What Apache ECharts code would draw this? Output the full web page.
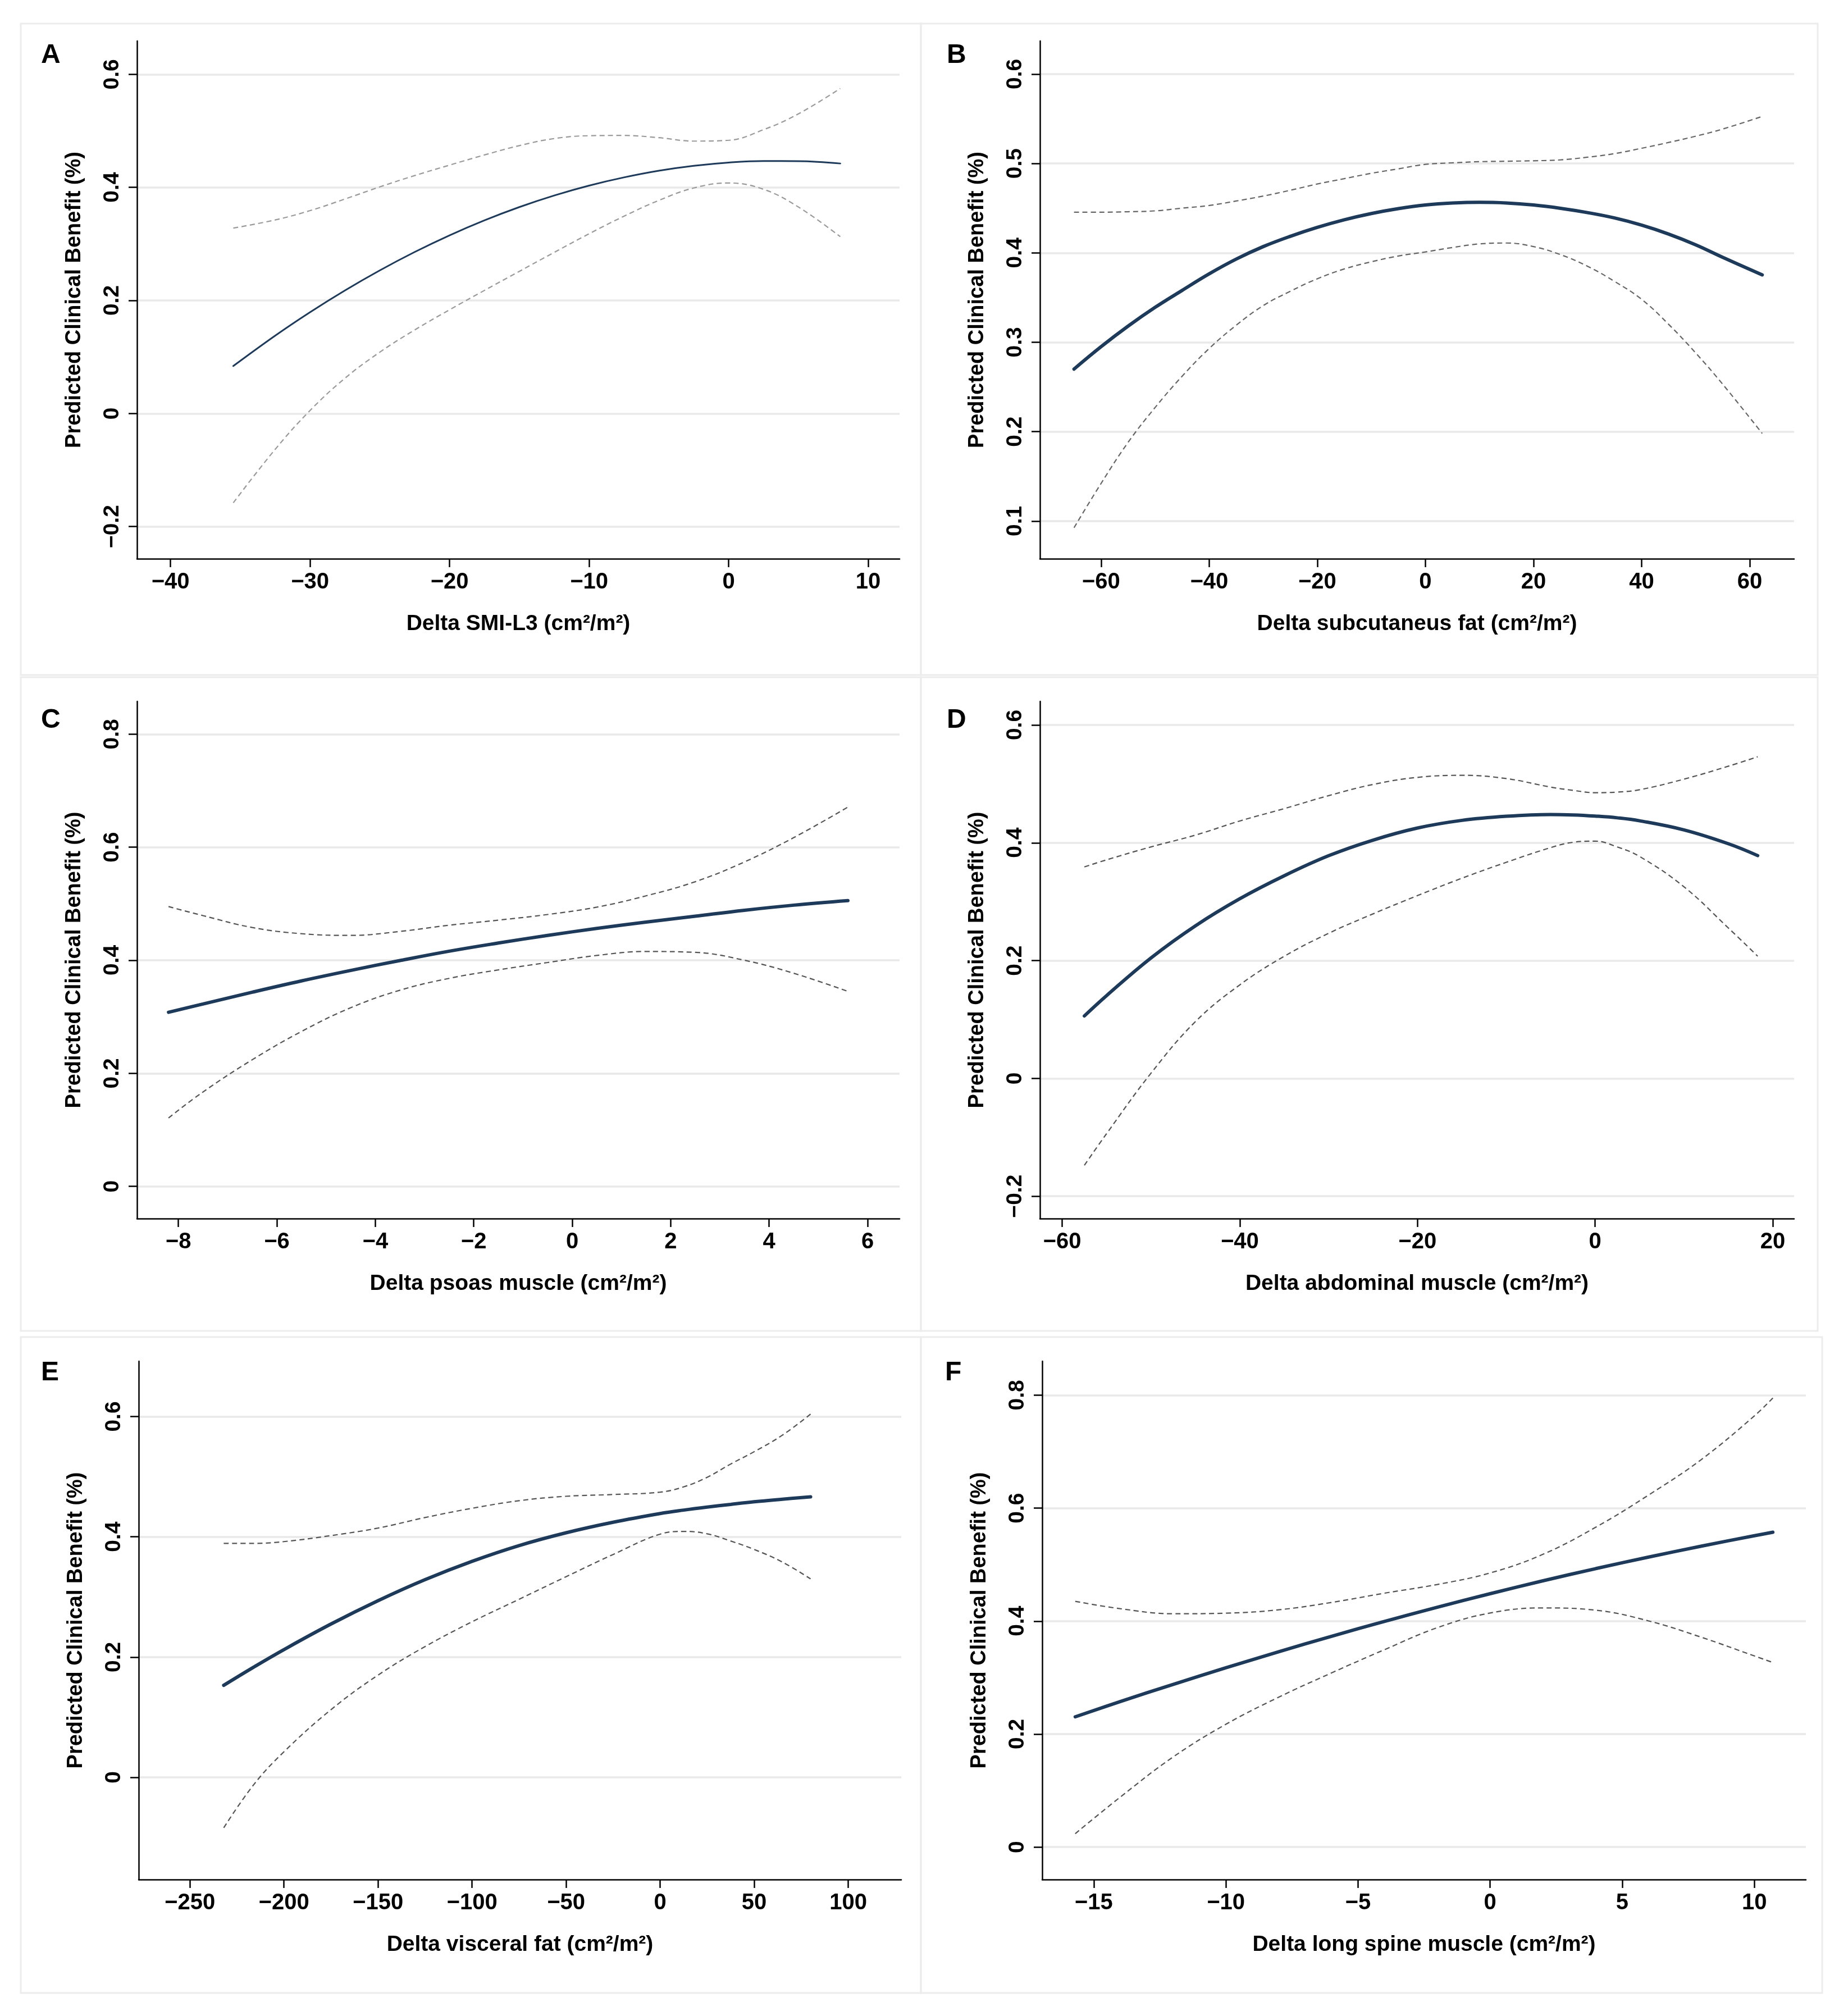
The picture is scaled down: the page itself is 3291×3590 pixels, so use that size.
<!DOCTYPE html>
<html>
<head>
<meta charset="utf-8">
<script src="https://cdn.jsdelivr.net/npm/echarts@6/dist/echarts.min.js"></script>
<style>
html,body{margin:0;padding:0;background:#fff;}
#chart{width:3291px;height:3590px;}
</style>
</head>
<body>
<div id="chart"></div>
<script>
// ---------- DATA ----------
// Panel A: Delta SMI-L3
const xA   = [-35.5, -32.5, -30, -27.5, -25, -22.5, -20, -17.5, -15, -12.5, -10, -7.5, -5, -2.5, 0, 2.5, 5, 8];
const fitA = [0.084, 0.1377, 0.1792, 0.2177, 0.2532, 0.2857, 0.3152, 0.3417, 0.3652, 0.3857, 0.4032, 0.4177, 0.4295, 0.4382, 0.444, 0.4467, 0.4465, 0.4423];
const upA  = [0.328, 0.3424, 0.3589, 0.3794, 0.4009, 0.4209, 0.4394, 0.4574, 0.4739, 0.4864, 0.4914, 0.4919, 0.4879, 0.4819, 0.4834, 0.5021, 0.5301, 0.575];
const loA  = [-0.158, -0.0635, 0.0053, 0.0623, 0.1085, 0.1478, 0.1835, 0.2178, 0.2515, 0.285, 0.318, 0.349, 0.377, 0.399, 0.4078, 0.3966, 0.3653, 0.3128];

// Panel B: Delta subcutaneus fat
const xB   = [-65, -60, -55, -50, -45, -40, -35, -30, -25, -20, -15, -10, -5, 0, 5, 10, 15, 20, 25, 30, 35, 40, 45, 50, 55, 62.3];
const fitB = [0.270, 0.295, 0.318, 0.339, 0.358, 0.3765, 0.393, 0.407, 0.4185, 0.4285, 0.437, 0.444, 0.4495, 0.4535, 0.4557, 0.4565, 0.4558, 0.4535, 0.4498, 0.445, 0.439, 0.431, 0.421, 0.409, 0.395, 0.3754];
const upB  = [0.4455, 0.4455, 0.446, 0.447, 0.450, 0.453, 0.458, 0.4635, 0.470, 0.477, 0.483, 0.489, 0.494, 0.499, 0.5007, 0.502, 0.5025, 0.503, 0.504, 0.507, 0.511, 0.517, 0.5235, 0.5305, 0.5385, 0.5526];
const loB  = [0.0925, 0.142, 0.188, 0.227, 0.262, 0.293, 0.319, 0.341, 0.357, 0.371, 0.382, 0.390, 0.3965, 0.401, 0.406, 0.410, 0.411, 0.407, 0.398, 0.385, 0.368, 0.348, 0.320, 0.288, 0.253, 0.198];

// Panel C: Delta psoas muscle
const xC   = [-8.2, -7.5, -6.5, -5.5, -4.5, -3.5, -2.5, -1.5, -0.5, 0.5, 1.5, 2.5, 3.5, 4.5, 5.6];
const fitC = [0.308, 0.3226, 0.3435, 0.3635, 0.382, 0.3995, 0.416, 0.4305, 0.444, 0.4563, 0.4675, 0.478, 0.4885, 0.4975, 0.5055];
const upC  = [0.495, 0.479, 0.458, 0.447, 0.444, 0.451, 0.462, 0.471, 0.481, 0.494, 0.514, 0.539, 0.574, 0.617, 0.671];
const loC  = [0.121, 0.167, 0.224, 0.274, 0.316, 0.347, 0.368, 0.383, 0.396, 0.4085, 0.4155, 0.414, 0.400, 0.377, 0.345];

// Panel D: Delta abdominal muscle
const xD   = [-57.5, -55, -50, -45, -40, -35, -30, -25, -20, -15, -10, -5, -2.5, 0, 2.5, 5, 10, 15, 18.3];
const fitD = [0.106, 0.1405, 0.2045, 0.259, 0.305, 0.344, 0.378, 0.4045, 0.425, 0.438, 0.445, 0.448, 0.4473, 0.4453, 0.4423, 0.4373, 0.4218, 0.3983, 0.3782];
const upD  = [0.359, 0.371, 0.393, 0.413, 0.437, 0.458, 0.480, 0.499, 0.511, 0.5145, 0.509, 0.4945, 0.489, 0.485, 0.486, 0.490, 0.508, 0.530, 0.546];
const loD  = [-0.1475, -0.0938, 0.0088, 0.0963, 0.1588, 0.2073, 0.2463, 0.2793, 0.3103, 0.3398, 0.3668, 0.3918, 0.4008, 0.4028, 0.3928, 0.3768, 0.3253, 0.2553, 0.2075];

// Panel E: Delta visceral fat
const xE   = [-232, -216, -200, -175, -150, -125, -100, -75, -50, -25, 0, 12.5, 25, 37.5, 50, 65, 80];
const fitE = [0.153, 0.1834, 0.2124, 0.2549, 0.2937, 0.3287, 0.3592, 0.3854, 0.4067, 0.4242, 0.4387, 0.4444, 0.4494, 0.4539, 0.4582, 0.4625, 0.4665];
const upE  = [0.389, 0.389, 0.392, 0.402, 0.4145, 0.432, 0.4474, 0.460, 0.4674, 0.4703, 0.4743, 0.483, 0.499, 0.521, 0.5415, 0.569, 0.604];
const loE  = [-0.084, -0.012, 0.0424, 0.1124, 0.1699, 0.2174, 0.2586, 0.2961, 0.3336, 0.3706, 0.4044, 0.409, 0.405, 0.393, 0.379, 0.358, 0.330];

// Panel F: Delta long spine muscle
const xF   = [-15.7, -14, -12, -10, -8, -6, -4, -2, 0, 2, 4, 6, 8, 10, 10.7];
const fitF = [0.2305, 0.2575, 0.2879, 0.3173, 0.3457, 0.3731, 0.3993, 0.4245, 0.4485, 0.4713, 0.4929, 0.5133, 0.5327, 0.5511, 0.5573];
const upF  = [0.435, 0.422, 0.413, 0.414, 0.420, 0.433, 0.4494, 0.4648, 0.4852, 0.5182, 0.5662, 0.6232, 0.6862, 0.7632, 0.795];
const loF  = [0.0237, 0.0883, 0.1593, 0.2173, 0.2653, 0.3083, 0.3493, 0.3883, 0.4143, 0.4233, 0.4193, 0.4003, 0.3713, 0.3383, 0.3267];

// Tick labels
const xTicksA = [-40, -30, -20, -10, 0, 10];
const xTicksB = [-60, -40, -20, 0, 20, 40, 60];
const xTicksC = [-8, -6, -4, -2, 0, 2, 4, 6];
const xTicksD = [-60, -40, -20, 0, 20];
const xTicksE = [-250, -200, -150, -100, -50, 0, 50, 100];
const xTicksF = [-15, -10, -5, 0, 5, 10];
const yTicksA = [-0.2, 0, 0.2, 0.4, 0.6];
const yTicksB = [0.1, 0.2, 0.3, 0.4, 0.5, 0.6];
const yTicksC = [0, 0.2, 0.4, 0.6, 0.8];
const yTicksD = [-0.2, 0, 0.2, 0.4, 0.6];
const yTicksE = [0, 0.2, 0.4, 0.6];
const yTicksF = [0, 0.2, 0.4, 0.6, 0.8];

const letters = ['A', 'B', 'C', 'D', 'E', 'F'];
const xNames = [
  'Delta SMI-L3 (cm²/m²)',
  'Delta subcutaneus fat (cm²/m²)',
  'Delta psoas muscle (cm²/m²)',
  'Delta abdominal muscle (cm²/m²)',
  'Delta visceral fat (cm²/m²)',
  'Delta long spine muscle (cm²/m²)'
];
const yName = 'Predicted Clinical Benefit (%)';

// ---------- LAYOUT / STYLE ----------
const FONT = 'Liberation Sans';
const grids = [
  {left: 244,  top: 73,   width: 1358, height: 922},
  {left: 1852, top: 73,   width: 1343, height: 922},
  {left: 244,  top: 1249, width: 1358, height: 921},
  {left: 1852, top: 1249, width: 1343, height: 921},
  {left: 247,  top: 2424, width: 1358, height: 923},
  {left: 1856, top: 2424, width: 1360, height: 923}
];
const xRanges = [[-42.4, 12.25], [-71.3, 68.2], [-8.84, 6.65], [-62.5, 22.4], [-277.2, 128.2], [-16.95, 11.95]];
const yRanges = [[-0.257, 0.659], [0.0578, 0.637], [-0.057, 0.858], [-0.238, 0.64], [-0.170, 0.692], [-0.0575, 0.86]];
const letterPos = [[68, 70], [1681, 70], [68, 1254], [1681, 1254], [68, 2416], [1678, 2416]];
const boxes = [
  [37, 42, 1603, 1160], [1640, 42, 1597, 1160],
  [37, 1206, 1603, 1164], [1640, 1206, 1597, 1164],
  [37, 2381, 1603, 1168], [1640, 2381, 1605, 1168]
];
const mainWidths = [3, 6, 6, 6, 6, 6];
const ciColors = ['#9a9a9a', '#666666', '#555555', '#555555', '#555555', '#555555'];

const panelX = [xA, xB, xC, xD, xE, xF];
const panelFit = [fitA, fitB, fitC, fitD, fitE, fitF];
const panelUp = [upA, upB, upC, upD, upE, upF];
const panelLo = [loA, loB, loC, loD, loE, loF];
const panelXT = [xTicksA, xTicksB, xTicksC, xTicksD, xTicksE, xTicksF];
const panelYT = [yTicksA, yTicksB, yTicksC, yTicksD, yTicksE, yTicksF];

function fmt(v) {
  const n = Math.round(Number(v) * 1000) / 1000;
  return String(n).replace('-', '\u2212');
}
function pairs(xs, ys) { return xs.map((x, i) => [x, ys[i]]); }

const option = {
  backgroundColor: '#ffffff',
  animation: false,
  title: letters.map((t, i) => ({
    text: t, left: letterPos[i][0], top: letterPos[i][1],
    textStyle: {fontFamily: FONT, fontWeight: 'bold', fontSize: 48, color: '#000'}
  })),
  graphic: boxes.map(b => ({
    type: 'rect', shape: {x: b[0], y: b[1], width: b[2], height: b[3]},
    style: {fill: 'none', stroke: '#ececec', lineWidth: 3}, z: -1, silent: true
  })),
  grid: grids.map(g => Object.assign({containLabel: false}, g)),
  xAxis: grids.map((g, i) => ({
    type: 'value', gridIndex: i, min: xRanges[i][0], max: xRanges[i][1],
    name: xNames[i], nameLocation: 'middle', nameGap: 97,
    nameTextStyle: {fontFamily: FONT, fontSize: 39, fontWeight: 'bold', color: '#000'},
    axisLine: {show: true, onZero: false, lineStyle: {color: '#000', width: 2.5}},
    axisTick: {show: true, length: 15, inside: false, customValues: panelXT[i], lineStyle: {color: '#000', width: 2.5}},
    axisLabel: {show: true, margin: 22, customValues: panelXT[i], formatter: fmt,
      fontFamily: FONT, fontSize: 40, fontWeight: 'bold', color: '#000'},
    splitLine: {show: false}
  })),
  yAxis: grids.map((g, i) => ({
    type: 'value', gridIndex: i, min: yRanges[i][0], max: yRanges[i][1],
    name: yName, nameLocation: 'middle', nameGap: 92, nameRotate: 90,
    nameTextStyle: {fontFamily: FONT, fontSize: 38, fontWeight: 'bold', color: '#000'},
    axisLine: {show: true, onZero: false, lineStyle: {color: '#000', width: 2.5}},
    axisTick: {show: true, length: 15, inside: false, customValues: panelYT[i], lineStyle: {color: '#000', width: 2.5}},
    axisLabel: {show: true, rotate: 90, margin: 24, customValues: panelYT[i], formatter: fmt,
      fontFamily: FONT, fontSize: 39, fontWeight: 'bold', color: '#000'},
    splitLine: {show: true, lineStyle: {color: '#e9e9e9', width: 3.5}}
  })),
  series: []
};

for (let i = 0; i < 6; i++) {
  option.series.push({
    type: 'line', xAxisIndex: i, yAxisIndex: i, smooth: 0.4, showSymbol: false, symbol: 'none',
    data: pairs(panelX[i], panelUp[i]),
    lineStyle: {color: ciColors[i], width: 2.2, type: [9, 6]}, z: 3
  });
  option.series.push({
    type: 'line', xAxisIndex: i, yAxisIndex: i, smooth: 0.4, showSymbol: false, symbol: 'none',
    data: pairs(panelX[i], panelLo[i]),
    lineStyle: {color: ciColors[i], width: 2.2, type: [9, 6]}, z: 3
  });
  option.series.push({
    type: 'line', xAxisIndex: i, yAxisIndex: i, smooth: 0.4, showSymbol: false, symbol: 'none',
    data: pairs(panelX[i], panelFit[i]),
    lineStyle: {color: '#1d3a5a', width: mainWidths[i], cap: 'round'}, z: 4
  });
}

const chart = echarts.init(document.getElementById('chart'), null, {renderer: 'canvas'});
chart.setOption(option);
</script>
</body>
</html>
